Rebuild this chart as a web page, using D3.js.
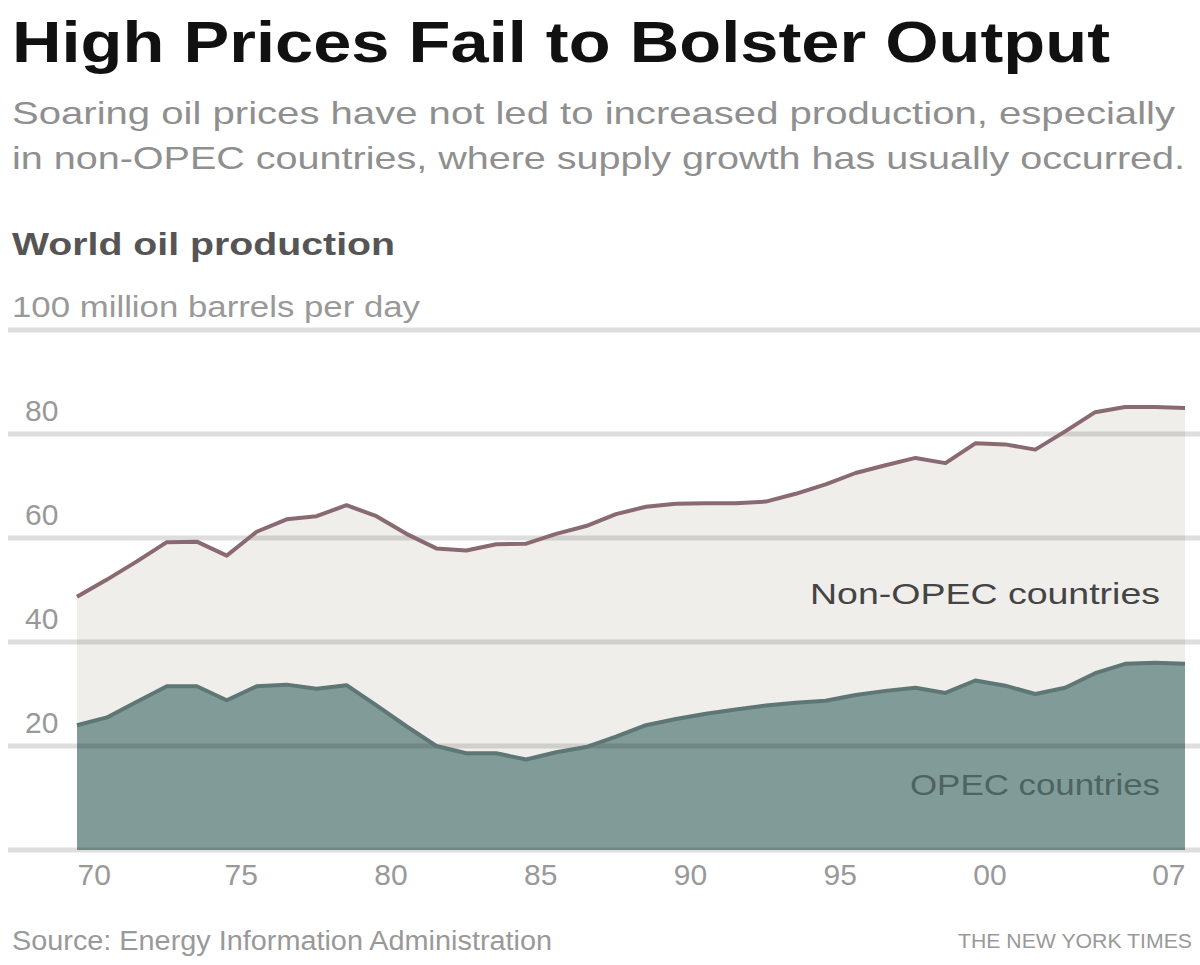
<!DOCTYPE html>
<html>
<head>
<meta charset="utf-8">
<script src="https://cdn.jsdelivr.net/npm/d3@7"></script>
<style>
  body { margin: 0; background: #fff; }
  svg { display: block; }
  text { font-family: "Liberation Sans", Arial, sans-serif; }
</style>
</head>
<body>
<div id="chart"></div>
<script>
// world oil production, million barrels per day
const years = [1970, 1971, 1972, 1973, 1974, 1975, 1976, 1977, 1978, 1979,
  1980, 1981, 1982, 1983, 1984, 1985, 1986, 1987, 1988, 1989,
  1990, 1991, 1992, 1993, 1994, 1995, 1996, 1997, 1998, 1999,
  2000, 2001, 2002, 2003, 2004, 2005, 2006, 2007];
const worldTotal = [48.7, 52.0, 55.5, 59.2, 59.3, 56.6, 61.2, 63.6, 64.2, 66.3,
  64.2, 60.8, 58.0, 57.6, 58.8, 58.9, 60.8, 62.3, 64.6, 66.0,
  66.6, 66.7, 66.7, 67.0, 68.5, 70.3, 72.5, 74.0, 75.4, 74.4,
  78.2, 78.0, 77.0, 80.5, 84.2, 85.2, 85.2, 85.0];
const opec = [24.0, 25.5, 28.5, 31.5, 31.5, 28.8, 31.5, 31.8, 31.0, 31.7,
  27.8, 23.8, 20.0, 18.6, 18.6, 17.4, 18.8, 19.8, 21.8, 24.0,
  25.2, 26.2, 27.0, 27.8, 28.3, 28.7, 29.8, 30.6, 31.2, 30.2,
  32.6, 31.6, 30.0, 31.2, 34.0, 35.8, 36.0, 35.8];

const yTicks = [0, 20, 40, 60, 80, 100];
const xTicks = [1970, 1975, 1980, 1985, 1990, 1995, 2000, 2007];
const xTickLabels = ["70", "75", "80", "85", "90", "95", "00", "07"];

const width = 1200;
const height = 965;

const svg = d3.select("#chart")
  .append("svg")
  .attr("width", width)
  .attr("height", height);

const x = d3.scaleLinear().domain([1970, 2007]).range([77, 1185]);
const y = d3.scaleLinear().domain([0, 100]).range([850, 330]);

const rows = years.map((yr, i) => ({ year: yr, total: worldTotal[i], opec: opec[i] }));

// headline block
svg.append("text")
  .attr("x", 12).attr("y", 62)
  .attr("font-family", "DejaVu Sans")
  .attr("font-weight", "bold")
  .attr("font-size", 58)
  .attr("textLength", 1098)
  .attr("lengthAdjust", "spacingAndGlyphs")
  .attr("fill", "#111")
  .text("High Prices Fail to Bolster Output");

svg.append("text")
  .attr("x", 12).attr("y", 124)
  .attr("font-size", 32)
  .attr("textLength", 1163)
  .attr("lengthAdjust", "spacingAndGlyphs")
  .attr("fill", "#8f8f8f")
  .text("Soaring oil prices have not led to increased production, especially");

svg.append("text")
  .attr("x", 12).attr("y", 169)
  .attr("font-size", 32)
  .attr("textLength", 1173)
  .attr("lengthAdjust", "spacingAndGlyphs")
  .attr("fill", "#8f8f8f")
  .text("in non-OPEC countries, where supply growth has usually occurred.");

svg.append("text")
  .attr("x", 12).attr("y", 255)
  .attr("font-size", 31)
  .attr("font-weight", "bold")
  .attr("textLength", 383)
  .attr("lengthAdjust", "spacingAndGlyphs")
  .attr("fill", "#555")
  .text("World oil production");

// areas
svg.append("path")
  .datum(rows)
  .attr("fill", "#efeeea")
  .attr("d", d3.area().x(d => x(d.year)).y0(y(0)).y1(d => y(d.total)));

svg.append("path")
  .datum(rows)
  .attr("fill", "#819b99")
  .attr("d", d3.area().x(d => x(d.year)).y0(y(0)).y1(d => y(d.opec)));

// gridlines on top of the fills
svg.append("g")
  .selectAll("line")
  .data(yTicks)
  .join("line")
  .attr("x1", 8).attr("x2", width)
  .attr("y1", d => y(d)).attr("y2", d => y(d))
  .attr("stroke", "rgba(0,0,0,0.13)")
  .attr("stroke-width", 5);

// lines
svg.append("path")
  .datum(rows)
  .attr("fill", "none")
  .attr("stroke", "#5e7674")
  .attr("stroke-width", 4)
  .attr("stroke-linejoin", "round")
  .attr("d", d3.line().x(d => x(d.year)).y(d => y(d.opec)));

svg.append("path")
  .datum(rows)
  .attr("fill", "none")
  .attr("stroke", "#8a6a71")
  .attr("stroke-width", 4)
  .attr("stroke-linejoin", "round")
  .attr("d", d3.line().x(d => x(d.year)).y(d => y(d.total)));

// y axis labels sit above their gridline
const yAxis = svg.append("g")
  .call(d3.axisRight(y)
    .tickValues(yTicks.filter(d => d > 0))
    .tickSize(0)
    .tickFormat(d => d === 100 ? "100 million barrels per day" : d));
yAxis.select(".domain").remove();
yAxis.selectAll("text")
  .attr("x", d => d === 100 ? 12 : 25)
  .attr("dy", null)
  .attr("y", -14)
  .attr("text-anchor", "start")
  .attr("font-family", null)
  .attr("font-size", 30)
  .attr("fill", "#999");
yAxis.selectAll("text").filter(d => d === 100)
  .attr("textLength", 408)
  .attr("lengthAdjust", "spacingAndGlyphs");

// x axis
const xAxis = svg.append("g")
  .attr("transform", "translate(0," + y(0) + ")")
  .call(d3.axisBottom(x)
    .tickValues(xTicks)
    .tickSize(0)
    .tickFormat((d, i) => xTickLabels[i]));
xAxis.select(".domain").remove();
xAxis.selectAll("text")
  .attr("dy", null)
  .attr("y", 35)
  .attr("font-family", null)
  .attr("font-size", 30)
  .attr("fill", "#999")
  .attr("x", d => d === 1970 || d === 2007 ? 0 : 14)
  .attr("text-anchor", d => d === 1970 ? "start" : d === 2007 ? "end" : "middle");

// series labels
svg.append("text")
  .attr("x", 1160).attr("y", 604)
  .attr("text-anchor", "end")
  .attr("font-size", 30)
  .attr("textLength", 350)
  .attr("lengthAdjust", "spacingAndGlyphs")
  .attr("fill", "#444")
  .text("Non-OPEC countries");

svg.append("text")
  .attr("x", 1160).attr("y", 795)
  .attr("text-anchor", "end")
  .attr("font-size", 30)
  .attr("textLength", 250)
  .attr("lengthAdjust", "spacingAndGlyphs")
  .attr("fill", "#4c6462")
  .text("OPEC countries");

// footer
svg.append("text")
  .attr("x", 12).attr("y", 950)
  .attr("font-size", 27)
  .attr("textLength", 540)
  .attr("lengthAdjust", "spacingAndGlyphs")
  .attr("fill", "#999")
  .text("Source: Energy Information Administration");

svg.append("text")
  .attr("x", 1192).attr("y", 948)
  .attr("text-anchor", "end")
  .attr("font-size", 20)
  .attr("textLength", 234)
  .attr("lengthAdjust", "spacingAndGlyphs")
  .attr("fill", "#999")
  .text("THE NEW YORK TIMES");
</script>
</body>
</html>
